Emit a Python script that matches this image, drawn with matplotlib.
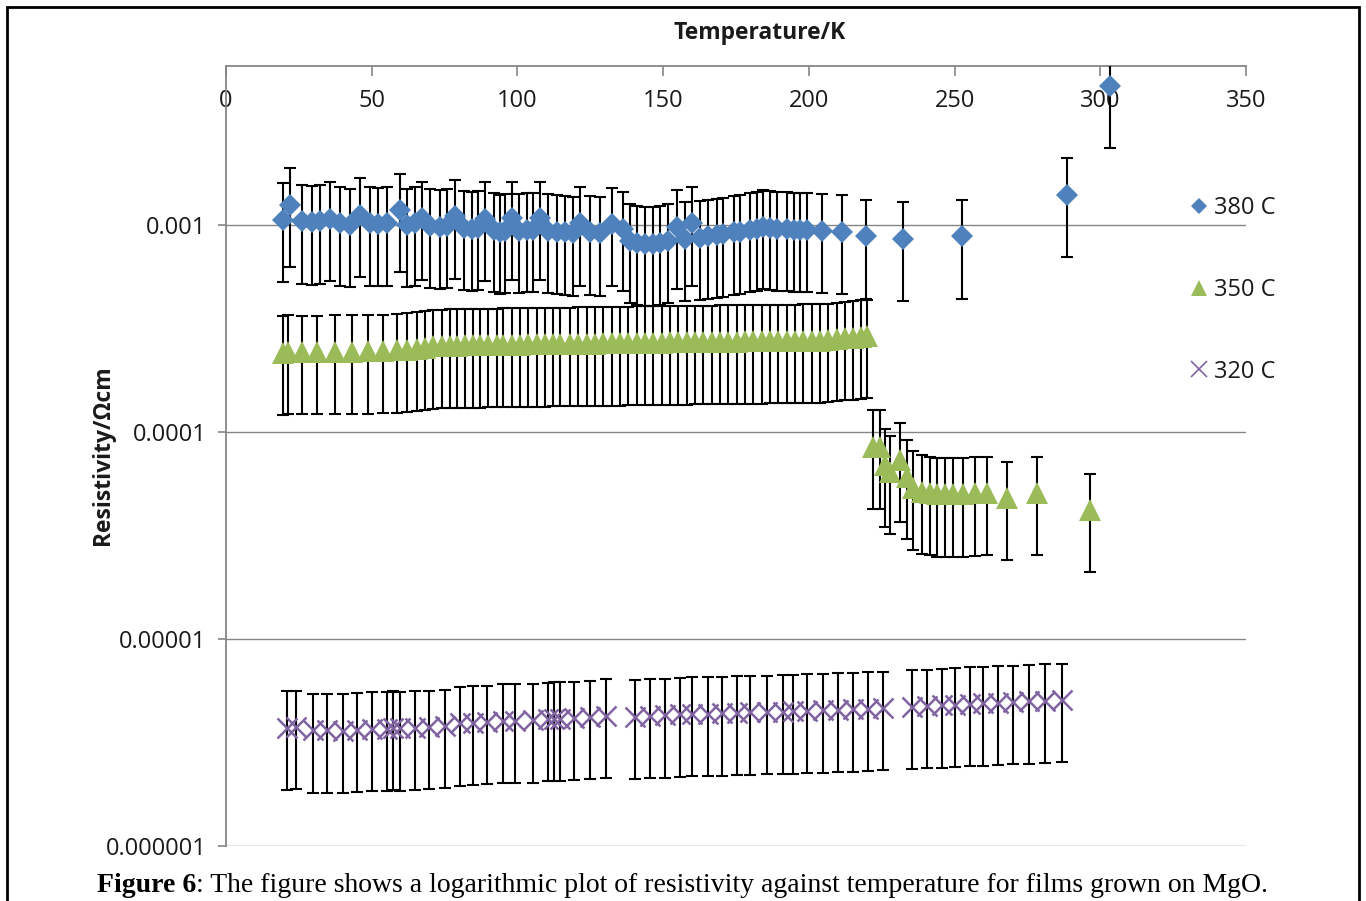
import matplotlib
matplotlib.use('Agg')
import matplotlib.pyplot as plt
from matplotlib.lines import Line2D
from matplotlib.patches import Rectangle
from matplotlib.ticker import FixedLocator, FixedFormatter, NullLocator
import numpy as np

plt.rcParams['font.family'] = ['Open Sans', 'DejaVu Sans']

# ---------------- data ----------------
series_labels = ['380 C', '350 C', '320 C']

T_380 = [19.7, 22.0, 26.0, 29.4, 32.3, 35.7, 39.1, 42.6, 46.0, 49.4,
         52.3, 55.2, 59.7, 62.0, 64.9, 67.2, 70.0, 73.5, 75.8, 78.6,
         81.5, 84.4, 86.6, 88.9, 91.8, 94.1, 95.8, 98.1, 100.4, 103.2,
         105.5, 107.8, 110.6, 113.5, 116.3, 119.0, 121.5, 124.9, 128.3, 132.4,
         136.3, 138.6, 140.9, 143.8, 146.6, 148.9, 151.8, 154.7, 157.5, 159.8,
         162.7, 165.5, 168.4, 170.7, 174.2, 176.4, 179.9, 182.2, 184.4, 186.8,
         189.0, 192.5, 194.8, 197.1, 199.4, 204.5, 211.4, 219.7, 232.3, 252.6,
         288.5, 303.4]
R_380_e3 = [1.06, 1.25, 1.04, 1.03, 1.04, 1.07, 1.02, 1.00, 1.12, 1.02,
            1.01, 1.02, 1.18, 1.00, 1.02, 1.08, 0.99, 0.98, 0.99, 1.10,
            0.97, 0.96, 0.97, 1.07, 0.95, 0.93, 0.94, 1.08, 0.94, 0.95,
            0.95, 1.08, 0.94, 0.93, 0.92, 0.91, 1.02, 0.92, 0.91, 1.01,
            0.96, 0.84, 0.82, 0.81, 0.81, 0.82, 0.84, 0.98, 0.86, 1.02,
            0.87, 0.88, 0.89, 0.90, 0.92, 0.93, 0.95, 0.96, 0.98, 0.97,
            0.96, 0.96, 0.95, 0.95, 0.95, 0.94, 0.93, 0.88, 0.86, 0.88,
            1.40, 4.70]

T_350 = [19.7, 21.4, 26.0, 31.1, 37.4, 43.1, 48.8, 54.0, 58.6, 62.0,
         65.4, 68.3, 71.1, 74.0, 76.9, 79.2, 82.0, 84.9, 87.2, 90.0,
         92.9, 95.2, 98.0, 100.9, 103.7, 106.6, 109.5, 112.3, 114.6, 118.1,
         120.9, 123.8, 126.7, 129.5, 132.4, 135.2, 138.0, 140.9, 143.8, 146.6,
         149.5, 152.3, 155.2, 158.1, 160.9, 163.8, 166.7, 169.5, 172.4, 175.2,
         178.1, 181.0, 183.8, 186.7, 189.5, 192.4, 195.3, 198.1, 201.0, 203.8,
         206.7, 209.6, 212.4, 215.3, 217.8, 219.8,
         221.9, 224.4, 226.1, 227.9, 231.3, 233.6, 235.8, 238.7, 241.6, 243.8,
         246.7, 249.5, 253.0, 257.0, 261.2, 268.0, 278.2, 296.3]
R_350_e4 = [2.42, 2.44, 2.43, 2.43, 2.44, 2.44, 2.45, 2.46, 2.48, 2.50,
            2.52, 2.55, 2.59, 2.60, 2.61, 2.61, 2.62, 2.62, 2.62, 2.63,
            2.63, 2.64, 2.64, 2.64, 2.65, 2.65, 2.65, 2.66, 2.66, 2.66,
            2.67, 2.67, 2.67, 2.68, 2.68, 2.68, 2.69, 2.70, 2.70, 2.70,
            2.70, 2.71, 2.71, 2.71, 2.72, 2.72, 2.72, 2.73, 2.73, 2.73,
            2.74, 2.74, 2.74, 2.75, 2.75, 2.75, 2.75, 2.76, 2.76, 2.76,
            2.78, 2.81, 2.84, 2.86, 2.88, 2.91,
            0.849, 0.850, 0.693, 0.640, 0.733, 0.608, 0.537, 0.515, 0.507, 0.500,
            0.500, 0.500, 0.500, 0.505, 0.507, 0.480, 0.507, 0.420]

T_320 = [20.8, 24.0, 29.7, 34.8, 40.1, 44.9, 50.1, 55.2, 57.3, 59.7,
         64.8, 69.7, 75.2, 80.3, 84.9, 89.5, 95.2, 99.2, 105.5, 110.6,
         112.4, 114.7, 119.3, 125.0, 130.4, 140.4, 145.5, 150.7, 155.8, 159.8,
         165.5, 170.1, 175.3, 179.8, 185.5, 191.2, 194.7, 199.2, 204.9, 210.1,
         215.2, 220.4, 225.6, 235.3, 240.4, 245.6, 250.1, 255.3, 259.9, 265.0,
         270.2, 275.4, 281.1, 286.8]
R_320_e6 = [3.72, 3.75, 3.62, 3.62, 3.60, 3.65, 3.68, 3.68, 3.72, 3.70,
            3.72, 3.75, 3.80, 3.92, 3.95, 3.97, 4.02, 4.03, 4.05, 4.10,
            4.12, 4.12, 4.15, 4.20, 4.25, 4.22, 4.26, 4.28, 4.32, 4.35,
            4.36, 4.38, 4.40, 4.42, 4.44, 4.46, 4.47, 4.50, 4.52, 4.55,
            4.58, 4.60, 4.64, 4.70, 4.74, 4.78, 4.82, 4.86, 4.89, 4.92,
            4.96, 4.99, 5.03, 5.07]

relative_error = 0.5   # error bars are +/-50 % of each value

x_ticks = [0, 50, 100, 150, 200, 250, 300, 350]
y_ticks = [1e-6, 1e-5, 1e-4, 1e-3]
y_tick_labels = ['0.000001', '0.00001', '0.0001', '0.001']

# ---------------- figure ----------------
W, H = 1366, 901
fig = plt.figure(figsize=(W / 100, H / 100), dpi=100)
fig.patch.set_facecolor('white')

# outer frame of the embedded chart
fig.patches.append(Rectangle((7 / W, -0.02), (1359 - 7) / W, 1.02 - 7 / H,
                             transform=fig.transFigure, fill=False,
                             edgecolor='black', linewidth=2.0))

ax = fig.add_axes([226 / W, 1 - 846 / H, (1246 - 226) / W, (846 - 66) / H])
ax.set_yscale('log')
ax.set_xlim(0, 350)
ax.set_ylim(1e-6, 10 ** (-3 + 159 / 207))

grey = '#868686'
text_col = '#1a1a1a'
colors = {'380 C': '#4F81BD', '350 C': '#9BBB59', '320 C': '#8064A2'}

series = [
    ('380 C', np.array(T_380), np.array(R_380_e3) * 1e-3, 'D', 11.5),
    ('350 C', np.array(T_350), np.array(R_350_e4) * 1e-4, '^', 15.5),
    ('320 C', np.array(T_320), np.array(R_320_e6) * 1e-6, 'x', 14.0),
]

for i, (lab, t, r, mk, ms) in enumerate(series):
    err = r * relative_error
    ax.errorbar(t, r, yerr=err, fmt='none', ecolor='black', elinewidth=1.5,
                capsize=4.5, capthick=1.5, zorder=3 + 2 * i)
    if mk == 'x':
        ax.plot(t, r, linestyle='none', marker=mk, markersize=ms,
                markeredgewidth=1.8, color=colors[lab], zorder=4 + 2 * i)
    else:
        ax.plot(t, r, linestyle='none', marker=mk, markersize=ms,
                markeredgewidth=0, color=colors[lab], zorder=4 + 2 * i)

# axes styling
for s in ['right', 'bottom']:
    ax.spines[s].set_visible(False)
for s in ['left', 'top']:
    ax.spines[s].set_color(grey)
    ax.spines[s].set_linewidth(1.3)

ax.yaxis.set_major_locator(FixedLocator(y_ticks))
ax.yaxis.set_major_formatter(FixedFormatter(y_tick_labels))
ax.yaxis.set_minor_locator(NullLocator())
ax.grid(axis='y', which='major', color=grey, linewidth=1.0, zorder=1)
ax.set_axisbelow(True)
ax.tick_params(axis='y', which='major', direction='out', length=6, width=1.2,
               color=grey, labelsize=17, labelcolor=text_col, pad=8)

ax.set_xticks(x_ticks)
ax.xaxis.set_ticks_position('top')
ax.tick_params(axis='x', which='major', top=True, bottom=False,
               labeltop=True, labelbottom=False, direction='in',
               length=7, width=1.2, color=grey, labelsize=17,
               labelcolor=text_col, pad=-34)

# axis titles
fig.text(760 / W, 1 - 33 / H, 'Temperature/K', ha='center', va='center',
         fontsize=16.5, fontweight='bold', color=text_col)
fig.text(103 / W, 1 - 455 / H, 'Resistivity/Ωcm', ha='center', va='center',
         rotation=90, fontsize=16.5, fontweight='bold', color=text_col)

# legend
handles = [
    Line2D([], [], linestyle='none', marker='D', markersize=8, markeredgewidth=0,
           color=colors['380 C']),
    Line2D([], [], linestyle='none', marker='^', markersize=12, markeredgewidth=0,
           color=colors['350 C']),
    Line2D([], [], linestyle='none', marker='x', markersize=12, markeredgewidth=1.2,
           color=colors['320 C']),
]
leg = fig.legend(handles, series_labels, loc='upper left',
                 bbox_to_anchor=(1190 / W, 1 - 196 / H), frameon=False,
                 fontsize=17, handlelength=0.75, handletextpad=0.25,
                 labelspacing=2.45, borderaxespad=0, borderpad=0)
for txt in leg.get_texts():
    txt.set_color(text_col)

# caption
cap1 = fig.text(97 / W, 1 - 886 / H, 'Figure 6', ha='left', va='center',
                fontsize=20, fontweight='bold', family='Liberation Serif')
ax.annotate(': The figure shows a logarithmic plot of resistivity against temperature for films grown on MgO.',
            xy=(1, 0), xycoords=cap1, ha='left', va='bottom',
            fontsize=20, family='Liberation Serif', annotation_clip=False)

fig.savefig('out.png', dpi=100)
